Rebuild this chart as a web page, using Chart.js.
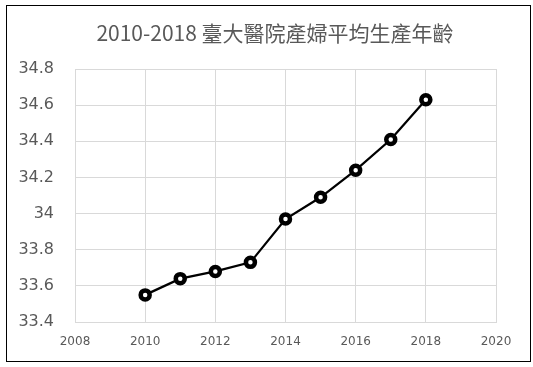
<!DOCTYPE html>
<html>
<head>
<meta charset="utf-8">
<script src="https://cdn.jsdelivr.net/npm/chart.js@4/dist/chart.umd.min.js"></script>
<style>
  html, body { margin: 0; padding: 0; background: #ffffff; }
  #wrap { position: absolute; left: 0; top: 0; width: 533px; height: 367px; }
</style>
</head>
<body>
<div id="wrap"><canvas id="c" width="533" height="367"></canvas></div>
<script>
const titleText = "2010-2018 臺大醫院產婦平均生產年齡";
const years = [2010, 2011, 2012, 2013, 2014, 2015, 2016, 2017, 2018];
const avgAge = [33.55, 33.64, 33.68, 33.73, 33.97, 34.09, 34.24, 34.41, 34.63];
const xRange = [2008, 2020];
const xStep = 2;
const yRange = [33.4, 34.8];
const yStep = 0.2;

const gridColor = "#d9d9d9";
const textColor = "#595959";

const frameAndTitle = {
  id: "frameAndTitle",
  afterDraw(chart) {
    const ctx = chart.ctx;
    ctx.save();
    ctx.strokeStyle = "#000000";
    ctx.lineWidth = 1;
    ctx.strokeRect(6.5, 5.5, 524, 356);
    ctx.fillStyle = textColor;
    ctx.font = '21px "Noto Sans CJK TC", "Noto Sans CJK SC", sans-serif';
    ctx.textAlign = "center";
    ctx.textBaseline = "middle";
    ctx.fillText(titleText, 275, 33);
    ctx.restore();
  }
};

new Chart(document.getElementById("c"), {
  type: "scatter",
  data: {
    datasets: [{
      data: years.map((y, i) => ({ x: y, y: avgAge[i] })),
      showLine: true,
      borderColor: "#000000",
      borderWidth: 2.25,
      pointRadius: 4.5,
      pointHoverRadius: 4.5,
      pointBorderWidth: 4.5,
      pointBackgroundColor: "#ffffff",
      pointBorderColor: "#000000"
    }]
  },
  options: {
    responsive: false,
    devicePixelRatio: 1,
    animation: false,
    layout: { padding: { left: 0, right: 37, top: 69, bottom: 0 } },
    plugins: {
      legend: { display: false },
      title: { display: false },
      tooltip: { enabled: false }
    },
    scales: {
      x: {
        type: "linear",
        min: xRange[0],
        max: xRange[1],
        afterFit(scale) { scale.height = 45; },
        grid: { color: gridColor, drawTicks: false, lineWidth: 1 },
        border: { color: gridColor },
        ticks: {
          stepSize: xStep,
          padding: 13,
          color: textColor,
          font: { family: "DejaVu Sans", size: 12 },
          callback: v => String(v)
        }
      },
      y: {
        type: "linear",
        min: yRange[0],
        max: yRange[1],
        afterFit(scale) { scale.width = 75; },
        grid: { color: gridColor, drawTicks: false, lineWidth: 1 },
        border: { color: gridColor },
        ticks: {
          stepSize: yStep,
          padding: 21,
          color: textColor,
          font: { family: "DejaVu Sans", size: 16 },
          callback: v => String(Math.round(v * 10) / 10)
        }
      }
    }
  },
  plugins: [frameAndTitle]
});
</script>
</body>
</html>
